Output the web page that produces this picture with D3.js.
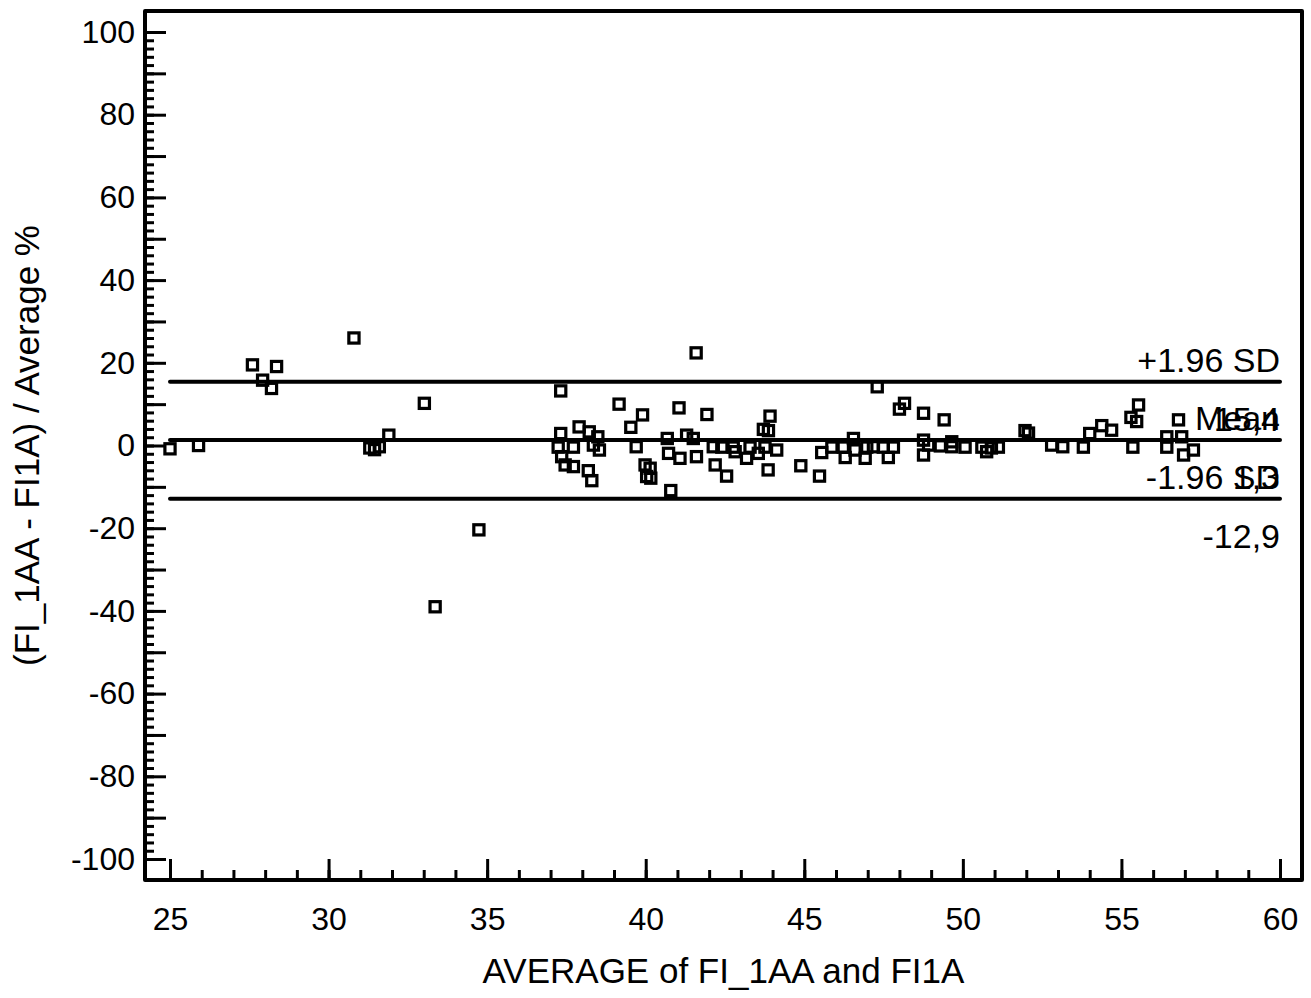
<!DOCTYPE html>
<html>
<head>
<meta charset="utf-8">
<script src="https://cdn.jsdelivr.net/npm/d3@7"></script>
<style>
  html, body { margin: 0; padding: 0; background: #fff; }
  svg { display: block; font-family: "Liberation Sans", Arial, sans-serif; }
</style>
</head>
<body>
<svg id="chart" width="1311" height="998"></svg>
<script>
// Bland-Altman plot: percentage difference vs. average of the two methods
const avgValues = [
  25.0, 25.9, 27.6, 27.92, 28.2, 28.36, 30.8, 31.3, 31.45, 31.6, 31.9, 33.02, 33.36, 34.74,
  37.32, 39.16, 41.05, 41.93, 39.9, 39.53, 37.9, 38.22, 38.49, 37.32, 37.24, 37.72, 38.35, 38.54,
  37.35, 37.46, 37.72, 38.19, 38.3, 39.7, 39.98, 40.03, 40.16, 40.14, 40.68, 40.72, 41.08, 40.79,
  41.29, 41.5, 41.6, 42.13, 42.19, 41.59,
  43.92, 43.71, 43.87, 42.4, 42.76, 43.29, 43.76, 44.13, 42.82, 43.18, 43.55, 42.55, 43.86, 44.89,
  45.48, 45.55, 45.87, 46.23, 46.55, 46.6, 46.29, 46.92, 46.97, 47.3,
  48.0, 48.16, 48.76, 49.41, 47.18, 47.49, 47.81, 47.65, 48.76, 48.76, 48.92, 49.29, 49.65, 49.65,
  50.07, 50.6, 50.75, 51.12, 50.9, 51.96, 52.07,
  52.8, 53.15, 53.8, 54.0, 54.38, 54.69, 55.3, 55.54, 55.48, 55.36, 56.43, 56.43, 56.8, 56.9, 56.96, 57.27
];
const pctDiffValues = [
  -0.8, 0.0, 19.5, 15.8, 13.8, 19.1, 26.0, -0.6, -1.0, -0.3, 2.5, 10.2, -39.0, -20.4,
  13.2, 10.0, 9.1, 7.5, 7.4, 4.4, 4.5, 3.3, 2.1, 2.9, -0.4, -0.4, 0.1, -1.1,
  -2.7, -4.7, -5.1, -6.1, -8.5, -0.3, -4.7, -7.5, -7.9, -5.5, 1.7, -1.9, -3.1, -10.9,
  2.5, 1.7, -2.7, -0.3, -4.7, 22.4,
  7.1, 3.9, 3.6, -0.4, -0.4, -0.4, -0.4, -1.1, -1.5, -3.1, -1.9, -7.4, -5.9, -4.9,
  -7.4, -1.7, -0.4, -0.4, 1.7, -1.1, -2.9, -3.1, -0.4, 14.2,
  8.8, 10.2, 7.8, 6.2, -0.3, -0.4, -0.4, -2.9, 1.3, -2.3, 0.1, -0.1, 0.9, -0.3,
  -0.4, -0.4, -1.5, -0.4, -0.6, 3.6, 3.0,
  0.1, -0.3, -0.4, 2.9, 4.8, 3.7, 6.8, 9.8, 5.8, -0.4, 2.1, -0.4, 6.2, 2.1, -2.3, -1.1
];

// Agreement lines: mean difference and ±1.96 SD limits
const refNames  = ["+1.96 SD", "Mean", "-1.96 SD"];
const refValues = [15.4, 1.3, -12.9];
const refLabels = ["15,4", "1,3", "-12,9"];

const xTickLabels = [25, 30, 35, 40, 45, 50, 55, 60];
const yTickLabels = [-100, -80, -60, -40, -20, 0, 20, 40, 60, 80, 100];

const xTitle = "AVERAGE of FI_1AA and FI1A";
const yTitle = "(FI_1AA - FI1A) / Average %";

const svg = d3.select("#chart");

const frame = { left: 145, top: 11, right: 1302, bottom: 880 };
const x = d3.scaleLinear().domain([25, 60]).range([170, 1280]);
const y = d3.scaleLinear().domain([-100, 100]).range([859, 32]);

const tickFont = 32;
const labelFont = 35;
const plainInt = d => String(d);   // keeps an ASCII hyphen for negatives

// X axis: minor ticks every unit, major every 5 with labels
const gx = svg.append("g").attr("transform", `translate(0,${frame.bottom})`);
gx.append("g")
  .call(d3.axisBottom(x).tickValues(d3.range(25, 61, 1)).tickSize(-10).tickFormat(""))
  .call(g => g.select(".domain").remove());
gx.append("g")
  .call(d3.axisBottom(x).tickValues(xTickLabels).tickSize(-21).tickPadding(27).tickFormat(plainInt))
  .call(g => g.select(".domain").remove());

// Y axis: minor ticks every 2, major every 10, labels every 20
const gy = svg.append("g").attr("transform", `translate(${frame.left},0)`);
gy.append("g")
  .call(d3.axisLeft(y).tickValues(d3.range(-100, 101, 2)).tickSize(-9).tickFormat(""))
  .call(g => g.select(".domain").remove());
gy.append("g")
  .call(d3.axisLeft(y).tickValues(d3.range(-100, 101, 10)).tickSize(-21).tickFormat(""))
  .call(g => g.select(".domain").remove());
gy.append("g")
  .call(d3.axisLeft(y).tickValues(yTickLabels).tickSize(0).tickPadding(10).tickFormat(plainInt))
  .call(g => g.select(".domain").remove());

svg.selectAll(".tick line").attr("stroke", "#000").attr("stroke-width", 3);
svg.selectAll(".tick text")
  .attr("fill", "#000")
  .style("font-size", tickFont + "px")
  .style("font-family", "'Liberation Sans', Arial, sans-serif");

// Plot frame
svg.append("rect")
  .attr("x", frame.left).attr("y", frame.top)
  .attr("width", frame.right - frame.left).attr("height", frame.bottom - frame.top)
  .attr("fill", "none").attr("stroke", "#000").attr("stroke-width", 4)
  .attr("stroke-linejoin", "round");

// Reference lines
svg.append("g").selectAll("line")
  .data(refValues)
  .join("line")
  .attr("x1", x(25)).attr("x2", x(60))
  .attr("y1", d => y(d)).attr("y2", d => y(d))
  .attr("stroke", "#000").attr("stroke-width", 4).attr("stroke-linecap", "round");

// Names above each line, values below
const refG = svg.append("g")
  .style("font-size", "34px")
  .attr("text-anchor", "end");
refG.selectAll("text.name")
  .data(refValues)
  .join("text").attr("class", "name")
  .attr("x", x(60)).attr("y", d => y(d) - 10)
  .text((d, i) => refNames[i]);
refG.selectAll("text.val")
  .data(refValues)
  .join("text").attr("class", "val")
  .attr("x", x(60)).attr("y", d => y(d) + 49)
  .text((d, i) => refLabels[i]);

// Data points as open squares
const points = avgValues.map((a, i) => ({ a, d: pctDiffValues[i] }));
const sq = 10.2;
svg.append("g").selectAll("rect")
  .data(points)
  .join("rect")
  .attr("x", p => x(p.a) - sq / 2)
  .attr("y", p => y(p.d) - sq / 2)
  .attr("width", sq).attr("height", sq)
  .attr("fill", "none").attr("stroke", "#000").attr("stroke-width", 3.2);

// Axis titles
svg.append("text")
  .attr("x", (frame.left + frame.right) / 2).attr("y", 983)
  .attr("text-anchor", "middle")
  .style("font-size", labelFont + "px")
  .text(xTitle);

svg.append("text")
  .attr("transform", `translate(38.5,${(frame.top + frame.bottom) / 2}) rotate(-90)`)
  .attr("text-anchor", "middle")
  .style("font-size", labelFont + "px")
  .text(yTitle);
</script>
</body>
</html>
